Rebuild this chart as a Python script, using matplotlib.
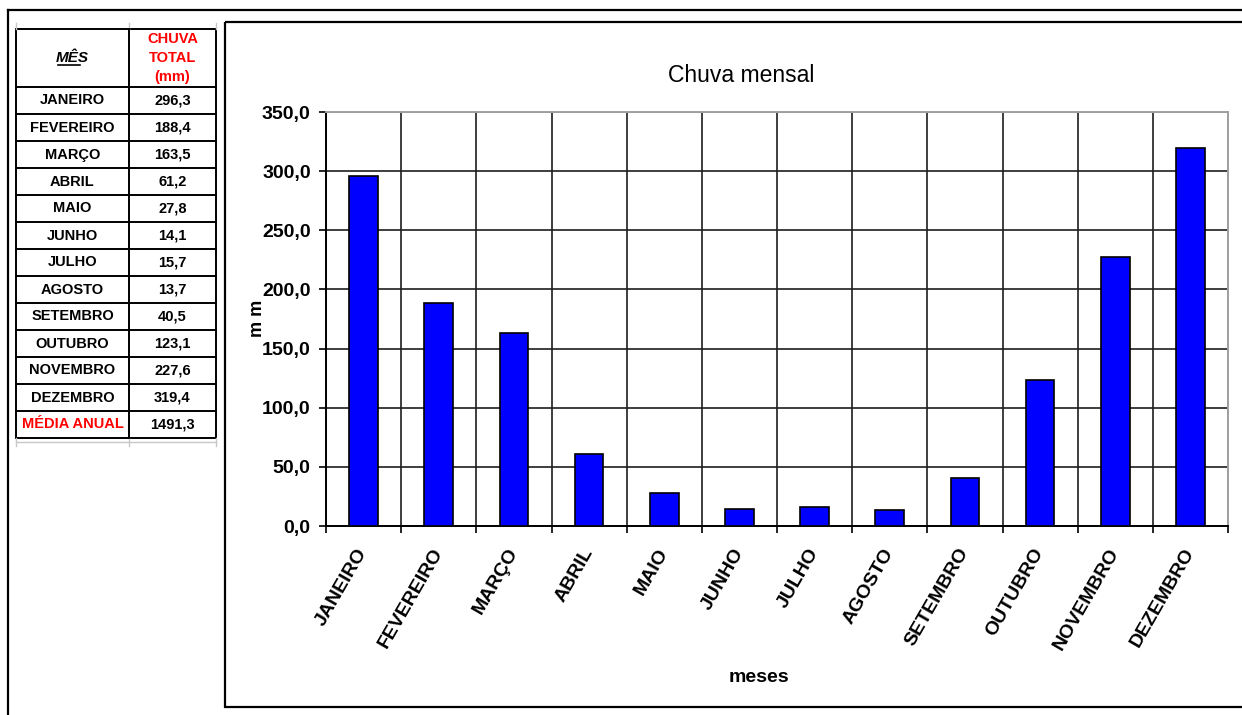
import matplotlib
matplotlib.use("Agg")
import matplotlib.pyplot as plt
from matplotlib.patches import Rectangle
from matplotlib.ticker import FuncFormatter
import numpy as np

# monthly rainfall (mm)
MESES = ["JANEIRO", "FEVEREIRO", "MARÇO", "ABRIL", "MAIO", "JUNHO", "JULHO",
         "AGOSTO", "SETEMBRO", "OUTUBRO", "NOVEMBRO", "DEZEMBRO"]
CHUVA = [296.3, 188.4, 163.5, 61.2, 27.8, 14.1, 15.7, 13.7, 40.5, 123.1, 227.6, 319.4]
Y_TICKS = [0, 50, 100, 150, 200, 250, 300, 350]

W, H = 1242, 715
SANS = ["Liberation Sans", "DejaVu Sans"]
RED = "#ff0000"


def br(v):
    return f"{v:.1f}".replace(".", ",")


plt.rcParams["font.family"] = SANS
fig = plt.figure(figsize=(W / 100, H / 100), dpi=100)

# pixel-space background layer for the sheet, the table and the chart frame
bg = fig.add_axes([0, 0, 1, 1])
bg.set_xlim(0, W); bg.set_ylim(H, 0); bg.axis("off")
bg.plot([8, 8], [10, H], color="black", lw=1.6)
bg.plot([8, W], [10, 10], color="black", lw=1.6)
bg.add_patch(Rectangle((225, 22), W, 685, fill=False, ec="black", lw=1.6))

# faint spreadsheet gridlines around the table
for gx in (16, 129, 216):
    bg.plot([gx, gx], [23, 29], color="#c8c8c8", lw=1)
    bg.plot([gx, gx], [438, 446], color="#c8c8c8", lw=1)
bg.plot([16, 216], [442, 442], color="#c8c8c8", lw=1)

# rainfall table
x0, x1, x2 = 16, 129, 216
top, head_bot, row_h = 29, 87, 27.0
rows = list(zip(MESES, [br(v) for v in CHUVA])) + [("MÉDIA ANUAL", br(sum(CHUVA)))]
bottom = head_bot + row_h * len(rows)
bg.add_patch(Rectangle((x0, top), x2 - x0, bottom - top, fill=False, ec="black", lw=1.4))
bg.plot([x1, x1], [top, bottom], color="black", lw=1.4)
bg.plot([x0, x2], [head_bot, head_bot], color="black", lw=1.4)
bg.text((x0 + x1) / 2, 58, "MÊS", ha="center", va="center", fontsize=11,
        fontweight="bold", style="italic")
bg.plot([58, 80], [65, 65], color="black", lw=1.2)
for i, line in enumerate(["CHUVA", "TOTAL", "(mm)"]):
    bg.text((x1 + x2) / 2, 39 + 19 * i, line, ha="center", va="center", fontsize=10.5,
            fontweight="bold", color=RED)
for i, (mes, val) in enumerate(rows):
    yc = head_bot + row_h * (i + 0.5)
    if i > 0:
        bg.plot([x0, x2], [head_bot + row_h * i] * 2, color="black", lw=1.4)
    last = i == len(rows) - 1
    bg.text((x0 + x1) / 2, yc, mes, ha="center", va="center", fontsize=10.5,
            fontweight="bold", color=RED if last else "black")
    bg.text((x1 + x2) / 2, yc, val, ha="center", va="center", fontsize=10.5,
            fontweight="bold")

# chart texts
bg.text(741, 75, "Chuva mensal", ha="center", va="center", fontsize=16.5)
bg.text(257, 318, "m m", ha="center", va="center", rotation=90, fontsize=13, fontweight="bold")
bg.text(759, 678, "meses", ha="center", va="center", fontsize=14, fontweight="bold")

# bar chart
ax = fig.add_axes([326 / W, 1 - 526 / H, (1228 - 326) / W, (526 - 112) / H])
x = np.arange(len(MESES))
ax.bar(x, CHUVA, width=0.38, color="#0000ff", edgecolor="black", lw=1.2, zorder=3)
ax.set_xlim(-0.5, len(MESES) - 0.5)
ax.set_ylim(0, 350)
ax.set_yticks(Y_TICKS)
ax.yaxis.set_major_formatter(FuncFormatter(lambda v, _: br(v)))
ax.set_xticks(np.arange(-0.5, len(MESES), 1))
ax.set_xticklabels([])
ax.set_xticks(x, minor=True)
ax.set_xticklabels(MESES, minor=True, rotation=60, ha="right", va="center",
                   rotation_mode="anchor", fontweight="bold", fontsize=14)
ax.tick_params(axis="x", which="major", length=5, width=1.2, color="black")
ax.tick_params(axis="x", which="minor", length=0, pad=17)
ax.tick_params(axis="y", length=5, width=1.2, pad=6, labelsize=14)
for lab in ax.get_yticklabels():
    lab.set_fontweight("bold")
ax.grid(True, which="major", color="#1e1e1e", lw=1.2, zorder=0)
for side in ("left", "bottom"):
    ax.spines[side].set_color("black"); ax.spines[side].set_linewidth(1.4)
for side in ("top", "right"):
    ax.spines[side].set_color("#a0a0a0"); ax.spines[side].set_linewidth(1.4)

fig.savefig("out.png", dpi=100)
